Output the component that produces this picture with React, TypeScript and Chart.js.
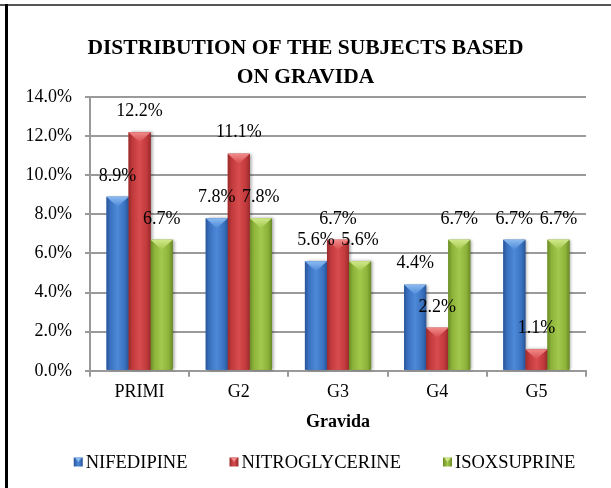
import React, { useEffect, useRef } from 'react';
import { Chart, registerables } from 'chart.js';

Chart.register(...registerables);

const categories = ['PRIMI', 'G2', 'G3', 'G4', 'G5'];
const seriesNames = ['NIFEDIPINE', 'NITROGLYCERINE', 'ISOXSUPRINE'];
const nifedipine = [8.9, 7.8, 5.6, 4.4, 6.7];
const nitroglycerine = [12.2, 11.1, 6.7, 2.2, 1.1];
const isoxsuprine = [6.7, 7.8, 5.6, 6.7, 6.7];
const yMin = 0;
const yMax = 14;
const yStep = 2;
const titleLines = ['DISTRIBUTION OF THE SUBJECTS BASED', 'ON GRAVIDA'];
const xAxisTitle = 'Gravida';

const FONT = "'Liberation Serif', 'Times New Roman', Times, serif";

const palettes = [
  { base: '#3a72c0', edge: '#29559a', mid: '#4d89d8', top: '#8bbaf0' },
  { base: '#c23a3c', edge: '#9a2a2c', mid: '#d84c4e', top: '#f08a8a' },
  { base: '#8db33a', edge: '#6b8c26', mid: '#a2c84c', top: '#d0e88a' },
];

const fmt = (v: number) => v.toFixed(1) + '%';

const bevelPlugin = {
  id: 'bevelBars',
  afterDatasetsDraw(chart: any) {
    const ctx = chart.ctx as CanvasRenderingContext2D;
    chart.data.datasets.forEach((_ds: any, di: number) => {
      const meta = chart.getDatasetMeta(di);
      const pal = palettes[di];
      meta.data.forEach((el: any) => {
        const { x, y, width, base } = el.getProps(['x', 'y', 'width', 'base'], true);
        const left = x - width / 2;
        const h = base - y;
        ctx.save();
        ctx.shadowColor = 'rgba(0,0,0,0.35)';
        ctx.shadowBlur = 3;
        ctx.shadowOffsetX = 2;
        ctx.shadowOffsetY = 0;
        const g = ctx.createLinearGradient(left, 0, left + width, 0);
        g.addColorStop(0, pal.edge);
        g.addColorStop(0.18, pal.base);
        g.addColorStop(0.5, pal.mid);
        g.addColorStop(0.82, pal.base);
        g.addColorStop(1, pal.edge);
        ctx.fillStyle = g;
        ctx.fillRect(left, y, width, h);
        ctx.restore();
        const th = Math.min(width * 0.45, h);
        ctx.save();
        ctx.beginPath();
        ctx.moveTo(left, y);
        ctx.lineTo(left + width, y);
        ctx.lineTo(x, y + th);
        ctx.closePath();
        const tg = ctx.createLinearGradient(0, y, 0, y + th);
        tg.addColorStop(0, pal.top);
        tg.addColorStop(1, pal.mid);
        ctx.fillStyle = tg;
        ctx.fill();
        ctx.restore();
      });
    });
  },
  afterDraw(chart: any) {
    const ctx = chart.ctx as CanvasRenderingContext2D;
    // data labels
    ctx.save();
    ctx.font = `18px ${FONT}`;
    ctx.fillStyle = '#000';
    ctx.textAlign = 'center';
    ctx.textBaseline = 'middle';
    chart.data.datasets.forEach((ds: any, di: number) => {
      const meta = chart.getDatasetMeta(di);
      meta.data.forEach((el: any, i: number) => {
        const { x, y } = el.getProps(['x', 'y'], true);
        ctx.fillText(fmt(ds.data[i]), x, y - 21);
      });
    });
    ctx.restore();

    // legend
    ctx.save();
    ctx.font = `18.5px ${FONT}`;
    ctx.textBaseline = 'middle';
    ctx.textAlign = 'left';
    const box = 9;
    const gap = 3;
    const itemGap = 42;
    const widths = seriesNames.map((n) => box + gap + ctx.measureText(n).width);
    const total = widths.reduce((a, b) => a + b, 0) + itemGap * (widths.length - 1);
    let cx = chart.width / 2 + 19 - total / 2;
    const cy = 462;
    seriesNames.forEach((n, i) => {
      const pal = palettes[i];
      const g = ctx.createLinearGradient(cx, 0, cx + box, 0);
      g.addColorStop(0, pal.edge);
      g.addColorStop(0.5, pal.mid);
      g.addColorStop(1, pal.edge);
      ctx.fillStyle = g;
      ctx.fillRect(cx, cy - box / 2, box, box);
      ctx.beginPath();
      ctx.moveTo(cx + 1, cy - box / 2);
      ctx.lineTo(cx + box - 1, cy - box / 2);
      ctx.lineTo(cx + box / 2, cy);
      ctx.closePath();
      ctx.fillStyle = pal.top;
      ctx.fill();
      ctx.fillStyle = '#000';
      ctx.fillText(n, cx + box + gap, cy + 1);
      cx += widths[i] + itemGap;
    });
    ctx.restore();
  },
};

export default function App() {
  const ref = useRef<HTMLCanvasElement | null>(null);

  useEffect(() => {
    if (!ref.current) return;
    const series = [nifedipine, nitroglycerine, isoxsuprine];
    const chart = new Chart(ref.current, {
      type: 'bar',
      data: {
        labels: categories,
        datasets: series.map((d, i) => ({
          label: seriesNames[i],
          data: d,
          backgroundColor: palettes[i].base,
          borderWidth: 0,
          categoryPercentage: 0.667,
          barPercentage: 1,
        })),
      },
      options: {
        responsive: false,
        animation: false,
        devicePixelRatio: 1,
        layout: { padding: { left: 25, right: 25, top: 0, bottom: 51 } },
        plugins: {
          legend: { display: false },
          tooltip: { enabled: false },
          title: {
            display: true,
            text: titleLines,
            color: '#000',
            font: { family: FONT, size: 21.5, weight: 'bold', lineHeight: 1.35 },
            padding: { top: 34, bottom: 5 },
          },
        },
        scales: {
          x: {
            grid: {
              display: true,
              drawOnChartArea: false,
              drawTicks: true,
              tickLength: 6,
              color: '#999',
              lineWidth: 2,
              offset: true,
            },
            border: { display: true, color: '#999', width: 2 },
            ticks: { color: '#000', font: { family: FONT, size: 18 }, padding: 5 },
            title: {
              display: true,
              text: xAxisTitle,
              color: '#000',
              font: { family: FONT, size: 18, weight: 'bold' },
              padding: { top: 3, bottom: 4 },
            },
          },
          y: {
            min: yMin,
            max: yMax,
            afterFit: (s: any) => {
              s.width = 65;
            },
            ticks: {
              stepSize: yStep,
              color: '#000',
              font: { family: FONT, size: 18 },
              padding: 13,
              callback: (v: any) => fmt(Number(v)),
            },
            grid: { color: '#9a9a9a', lineWidth: 2, tickLength: 5, drawTicks: true },
            border: { display: true, color: '#999', width: 2 },
          },
        },
      },
      plugins: [bevelPlugin],
    } as any);
    return () => chart.destroy();
  }, []);

  return (
    <div style={{ position: 'fixed', left: 0, top: 0, width: 611, height: 488, background: '#fff', overflow: 'hidden' }}>
      <canvas ref={ref} width={611} height={488} style={{ display: 'block', position: 'absolute', left: 0, top: 0 }} />
      <div style={{ position: 'absolute', left: 0, top: 4, width: 611, height: 2, background: '#555' }} />
      <div style={{ position: 'absolute', left: 5, top: 4, width: 2.5, height: 484, background: '#000' }} />
    </div>
  );
}
